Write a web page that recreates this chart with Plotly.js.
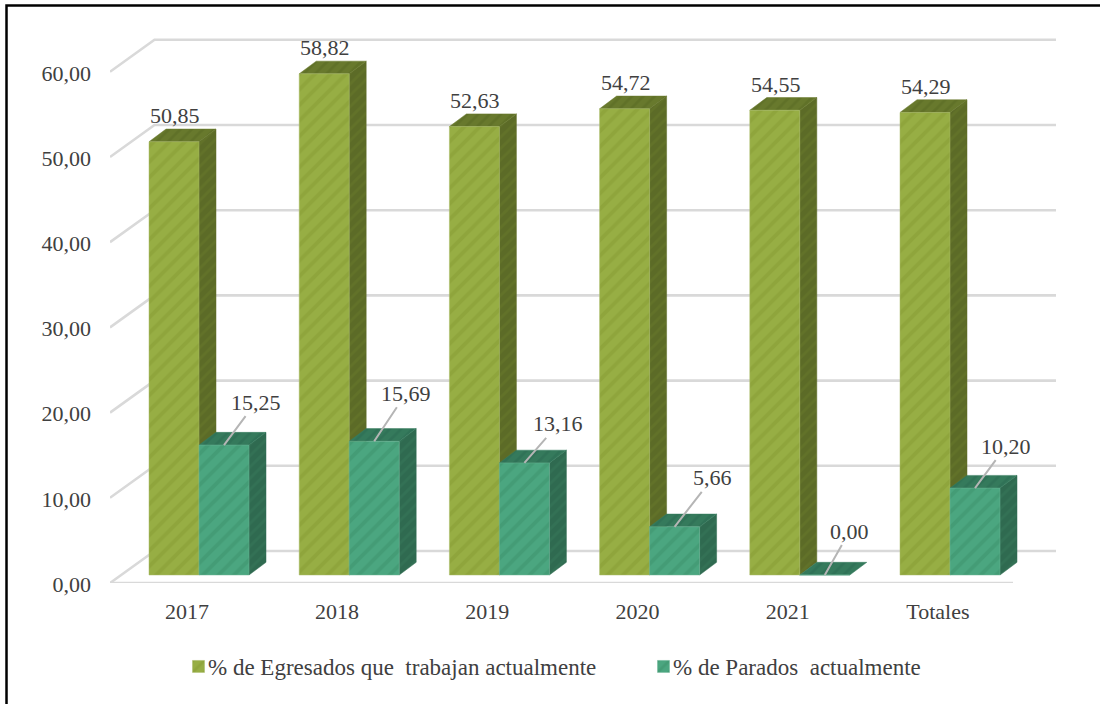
<!DOCTYPE html>
<html>
<head>
<meta charset="utf-8">
<script src="https://cdn.plot.ly/plotly-3.0.1.min.js"></script>
<style>html,body{margin:0;padding:0;background:#fff}#chart{width:1100px;height:704px}</style>
</head>
<body>
<div id="chart"></div>
<script>
// Data
const categories = ['2017', '2018', '2019', '2020', '2021', 'Totales'];
const egresados = [50.85, 58.82, 52.63, 54.72, 54.55, 54.29];
const parados = [15.25, 15.69, 13.16, 5.66, 0.00, 10.20];
const seriesNames = ['% de Egresados que  trabajan actualmente', '% de Parados  actualmente'];
const yTicks = [0, 10, 20, 30, 40, 50, 60];

// Styles and pseudo-3D geometry (axis units)
const FONT = '"Liberation Serif", serif';
const TXT = '#404040';
const PXX = 150.2, PXY = 8.52;
const WIDTH = 50 / PXX, DX = 17 / PXX, DY = 12.7 / PXY;
const BASE = 8 / PXY;
const OFF_A = -36.1 / PXX, OFF_B = OFF_A + WIDTH;
const WALL_DX = 44.5 / PXX, WALL_DY = 32 / PXY;
const XMIN = -0.5, XFRONT = XMIN + 903 / PXX, XBACK = XMIN + 946 / PXX;
const TICK_SHIFT = 1.8 / PXX;
const leaderAx = [32, 32, 34, 38, 25, 31];
const leaderAy = [-43, -48, -39, -49, -44, -42];
const fmt = v => v.toFixed(2).replace('.', ',');

function hatch(bg, fg) {
  return {shape: '/', bgcolor: bg, fgcolor: fg, size: 11, solidity: 0.35, fillmode: 'replace'};
}
function faces(values, off, kind) {
  const xs = [], ys = [];
  values.forEach((v, i) => {
    const x0 = i + off, x1 = x0 + WIDTH, top = v + BASE;
    if (kind === 'side') {
      if (v > 0) { xs.push(x1, x1 + DX, x1 + DX, x1, x1, null); ys.push(BASE, BASE + DY, top + DY, top, BASE, null); }
    } else {
      xs.push(x0, x0 + DX, x1 + DX, x1, x0, null); ys.push(top, top + DY, top + DY, top, top, null);
    }
  });
  return {x: xs, y: ys};
}
function poly(values, off, kind, color, stripe, z, group) {
  const p = faces(values, off, kind);
  return {type: 'scatter', mode: 'lines', x: p.x, y: p.y, fill: 'toself', fillcolor: color,
    fillpattern: {shape: '/', bgcolor: color, fgcolor: stripe, size: 8, solidity: 0.35, fillmode: 'replace'},
    line: {width: 0.5, color: color}, hoverinfo: 'skip', showlegend: false, zorder: z, legendgroup: group, cliponaxis: false};
}
function bar(values, off, name, color, stripe, edge, z, group, legendWidth) {
  return {type: 'bar', name: name, x: categories.map((c, i) => i), y: values, base: BASE, offset: off, width: WIDTH,
    marker: {color: color, pattern: hatch(color, stripe), line: {color: edge, width: 0.5}},
    hovertemplate: '%{customdata}<extra>' + name + '</extra>', customdata: categories,
    zorder: z, legendgroup: group, legendwidth: legendWidth, cliponaxis: false};
}

// Back wall and floor grid
const gx = [], gy = [];
yTicks.forEach(t => {
  gx.push(XMIN, XMIN + WALL_DX, XBACK, null);
  gy.push(t, t + WALL_DY, t + WALL_DY, null);
});
gx.push(XMIN, XFRONT); gy.push(0, 0);
const grid = {type: 'scatter', mode: 'lines', x: gx, y: gy, line: {color: '#d9d9d9', width: 2.6},
  hoverinfo: 'skip', showlegend: false, zorder: 0, cliponaxis: false};

const traces = [
  grid,
  poly(egresados, OFF_A, 'side', '#5c6b27', '#627229', 1, 'a'),
  poly(egresados, OFF_A, 'top', '#68792d', '#607128', 1, 'a'),
  bar(egresados, OFF_A, seriesNames[0], '#97ae44', '#8fa53c', '#a9bb68', 2, 'a', 420),
  poly(parados, OFF_B, 'side', '#2f6a50', '#337155', 3, 'b'),
  poly(parados, OFF_B, 'top', '#357a5c', '#307257', 3, 'b'),
  bar(parados, OFF_B, seriesNames[1], '#4ba680', '#449c76', '#6cb597', 4, 'b', 280)
];

const annotations = [];
egresados.forEach((v, i) => annotations.push({
  xref: 'x', yref: 'y', x: i + OFF_A + WIDTH / 2, y: v + BASE, yshift: 26, xshift: 1, showarrow: false,
  text: fmt(v), font: {family: FONT, size: 22, color: TXT}, yanchor: 'middle', xanchor: 'center'
}));
parados.forEach((v, i) => annotations.push({
  xref: 'x', yref: 'y', x: i + OFF_B + WIDTH / 2, y: v + BASE, showarrow: true, arrowhead: 0,
  arrowcolor: '#b5b5b5', arrowwidth: 2, ax: leaderAx[i], ay: leaderAy[i], standoff: 0, startstandoff: 0,
  text: fmt(v), font: {family: FONT, size: 22, color: TXT}
}));

const layout = {
  width: 1100, height: 704, autosize: false,
  margin: {l: 110, r: 44, t: 30, b: 121, pad: 0},
  paper_bgcolor: '#fff', plot_bgcolor: 'rgba(0,0,0,0)',
  barmode: 'overlay', showlegend: true, hovermode: 'closest',
  font: {family: FONT, size: 22, color: TXT},
  xaxis: {type: 'linear', range: [XMIN, XBACK], tickmode: 'array', tickvals: categories.map((c, i) => i + TICK_SHIFT), ticktext: categories,
    showgrid: false, zeroline: false, showline: false, ticks: '', ticklabelstandoff: 13, tickfont: {family: FONT, size: 22, color: TXT}},
  yaxis: {type: 'linear', range: [0, 553 / PXY], tickmode: 'array', tickvals: yTicks, tickformat: '.2f',
    showgrid: false, zeroline: false, showline: false, ticks: '', ticklabelstandoff: 18, ticklabelshift: 1, tickfont: {family: FONT, size: 22, color: TXT}},
  separators: ',.',
  legend: {orientation: 'h', xref: 'container', yref: 'container', x: 168 / 1100, y: 1 - 645 / 704, xanchor: 'left', yanchor: 'top',
    font: {family: FONT, size: 23, color: TXT}, bgcolor: 'rgba(0,0,0,0)', traceorder: 'normal', itemclick: 'toggle'},
  annotations: annotations,
  shapes: [{type: 'path', xref: 'paper', yref: 'paper', layer: 'below',
    path: 'M -0.1094 -0.3 L -0.1094 1.0445 L 1.2 1.0445', line: {color: '#000', width: 2.5}}]
};
Plotly.newPlot('chart', traces, layout, {displayModeBar: false, responsive: false}).then(gd => {
  // Bring the legend swatches next to their labels, as in the reference
  const snug = () => gd.querySelectorAll('.legend .legendsymbols').forEach(s => s.setAttribute('transform', 'translate(10.5,0)'));
  snug();
  gd.on('plotly_afterplot', snug);
});
</script>
</body>
</html>
